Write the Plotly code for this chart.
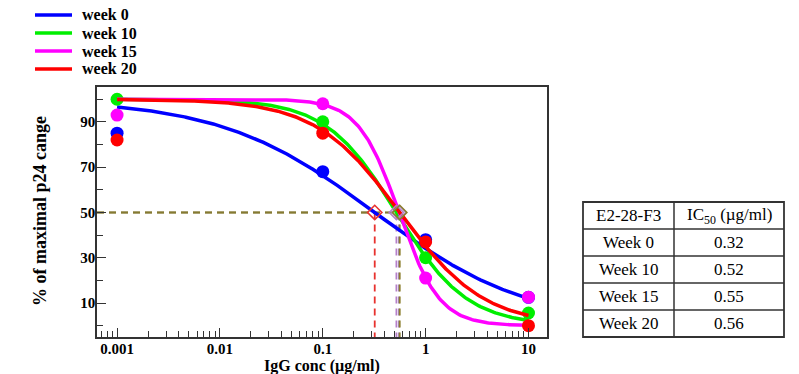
import numpy as np
import plotly.graph_objects as go

# ---------------- data ----------------
series_names = ["week 0", "week 10", "week 15", "week 20"]
series_colors = ["#0000ff", "#00ee00", "#ff00ff", "#ff0000"]
conc = [0.001, 0.1, 1, 10]
week0_vals = [85, 68, 38, 12.5]
week10_vals = [100, 90, 30, 5.6]
week15_vals = [93, 98, 21, 12.6]
week20_vals = [82, 85, 37, 0]
series_vals = [week0_vals, week10_vals, week15_vals, week20_vals]

# 4-parameter logistic fit parameters
fit_top = [100, 100, 100, 100]
fit_bottom = [0, 0, 0, 0]
fit_hill = [0.58, 1.27, 2.2, 1.06]
ic50 = [0.32, 0.52, 0.55, 0.56]
ic50_colors = ["#e8322e", "#b57fc9", "#a98cc0", "#8b7d2b"]

x_ticks = [0.001, 0.01, 0.1, 1, 10]
x_ticktext = ["0.001", "0.01", "0.1", "1", "10"]
y_ticks = [10, 30, 50, 70, 90]
y_minor = [0, 20, 40, 60, 80, 100]

table_header = ["E2-28-F3", "IC<sub>50</sub> (µg/ml)"]
table_rows = [["Week 0", "0.32"], ["Week 10", "0.52"], ["Week 15", "0.55"], ["Week 20", "0.56"]]

# ---------------- layout geometry ----------------
W, H = 799, 374
L, R, T, B = 97, 547, 87, 337
YMIN, YMAX = -5, 105.4
XMIN, XMAX = -3.195, 1.18


def px(x):
    return (x - L) / (R - L)


def py(y):
    return (B - y) / (B - T)


fig = go.Figure()

serif = "Liberation Serif"

# dashed IC50 guide lines (horizontal then vertical), and diamonds
for c, col in zip(ic50, ic50_colors):
    fig.add_trace(go.Scatter(x=[10 ** XMIN, c], y=[50, 50], mode="lines",
                             line=dict(color="#857a32", width=1.6, dash="7px,5px"),
                             showlegend=False, hoverinfo="skip"))
for c, col in zip(ic50, ic50_colors):
    fig.add_trace(go.Scatter(x=[c, c], y=[50, YMIN], mode="lines",
                             line=dict(color=col, width=1.8, dash="7px,5px"),
                             showlegend=False, hoverinfo="skip"))

# fitted curves + points
xs = np.logspace(-3, 1, 300)
for i in range(4):
    yfit = fit_bottom[i] + (fit_top[i] - fit_bottom[i]) / (1 + (xs / ic50[i]) ** fit_hill[i])
    fig.add_trace(go.Scatter(x=xs, y=yfit, mode="lines",
                             line=dict(color=series_colors[i], width=3.5),
                             showlegend=False, hoverinfo="skip"))
    fig.add_trace(go.Scatter(x=conc, y=series_vals[i], mode="markers",
                             marker=dict(color=series_colors[i], size=13),
                             name=series_names[i], showlegend=False))

for c, col in zip(ic50, ic50_colors):
    fig.add_trace(go.Scatter(x=[c], y=[50], mode="markers",
                             marker=dict(symbol="diamond-open", size=11, color=col,
                                         line=dict(width=1.6, color=col)),
                             showlegend=False, hoverinfo="skip"))

shapes = []
annotations = []

# manual legend
leg_y = [15, 33, 51, 69]
for name, col, yy in zip(series_names, series_colors, leg_y):
    shapes.append(dict(type="line", xref="paper", yref="paper",
                       x0=px(35), x1=px(72), y0=py(yy), y1=py(yy),
                       line=dict(color=col, width=3.5)))
    annotations.append(dict(xref="paper", yref="paper", x=px(80), y=py(yy),
                            xanchor="left", yanchor="middle", showarrow=False,
                            text=name, font=dict(family=serif, size=16, color="black", weight="bold")))

# y axis title
annotations.append(dict(xref="paper", yref="paper", x=px(40), y=py(211),
                        xanchor="center", yanchor="middle", showarrow=False, textangle=-90,
                        text="% of maximal p24 cange",
                        font=dict(family=serif, size=18, color="black", weight="bold")))
# x axis title
annotations.append(dict(xref="paper", yref="paper", x=px(322), y=py(366),
                        xanchor="center", yanchor="middle", showarrow=False,
                        text="IgG conc (µg/ml)",
                        font=dict(family=serif, size=16, color="black", weight="bold")))

# table
tx0, tx1, tx2 = 583, 674, 784
ty = [202, 229, 256, 283, 310, 337]
tcol = "#333333"
shapes.append(dict(type="rect", xref="paper", yref="paper", x0=px(tx0), x1=px(tx2),
                   y0=py(ty[0]), y1=py(ty[-1]), line=dict(color=tcol, width=1.8)))
shapes.append(dict(type="line", xref="paper", yref="paper", x0=px(tx1), x1=px(tx1),
                   y0=py(ty[0]), y1=py(ty[-1]), line=dict(color=tcol, width=1.5)))
for yy in ty[1:-1]:
    shapes.append(dict(type="line", xref="paper", yref="paper", x0=px(tx0), x1=px(tx2),
                       y0=py(yy), y1=py(yy), line=dict(color=tcol, width=1.5)))
all_rows = [table_header] + table_rows
for r, row in enumerate(all_rows):
    yc = (ty[r] + ty[r + 1]) / 2
    for cidx, (a, b) in enumerate([(tx0, tx1), (tx1, tx2)]):
        annotations.append(dict(xref="paper", yref="paper", x=px((a + b) / 2), y=py(yc),
                                xanchor="center", yanchor="middle", showarrow=False,
                                text=row[cidx],
                                font=dict(family=serif, size=17, color="black")))

x_minor = [0.0007, 0.0008, 0.0009]
for d in [0.001, 0.01, 0.1, 1]:
    x_minor += [d * k for k in range(2, 10)]

fig.update_layout(
    width=W, height=H,
    margin=dict(l=L, r=W - R, t=T, b=H - B, pad=0),
    paper_bgcolor="white", plot_bgcolor="white",
    showlegend=False,
    shapes=shapes, annotations=annotations,
    xaxis=dict(type="log", range=[XMIN, XMAX], showgrid=False, zeroline=False,
               showline=True, linecolor="#333333", linewidth=1.5, mirror=True,
               ticks="inside", ticklen=9, tickwidth=1.2, tickcolor="#333333",
               tickmode="array", tickvals=x_ticks, ticktext=x_ticktext,
               ticklabelstandoff=-3,
               tickfont=dict(family=serif, size=15, color="black", weight="bold"),
               minor=dict(ticks="inside", ticklen=6, tickwidth=1.2, tickcolor="#333333",
                          tickmode="array", tickvals=x_minor, showgrid=False)),
    yaxis=dict(range=[YMIN, YMAX], showgrid=False, zeroline=False,
               showline=True, linecolor="#333333", linewidth=1.5, mirror=True,
               ticks="inside", ticklen=9, tickwidth=1.2, tickcolor="#333333",
               tickmode="array", tickvals=y_ticks, ticklabelstandoff=-3,
               tickfont=dict(family=serif, size=15, color="black", weight="bold"),
               minor=dict(ticks="inside", ticklen=6, tickwidth=1.2, tickcolor="#333333",
                          tickmode="array", tickvals=y_minor, showgrid=False)),
)

fig.write_html("out.html", config={"displayModeBar": False},
               post_script="document.body.style.margin='0';")
